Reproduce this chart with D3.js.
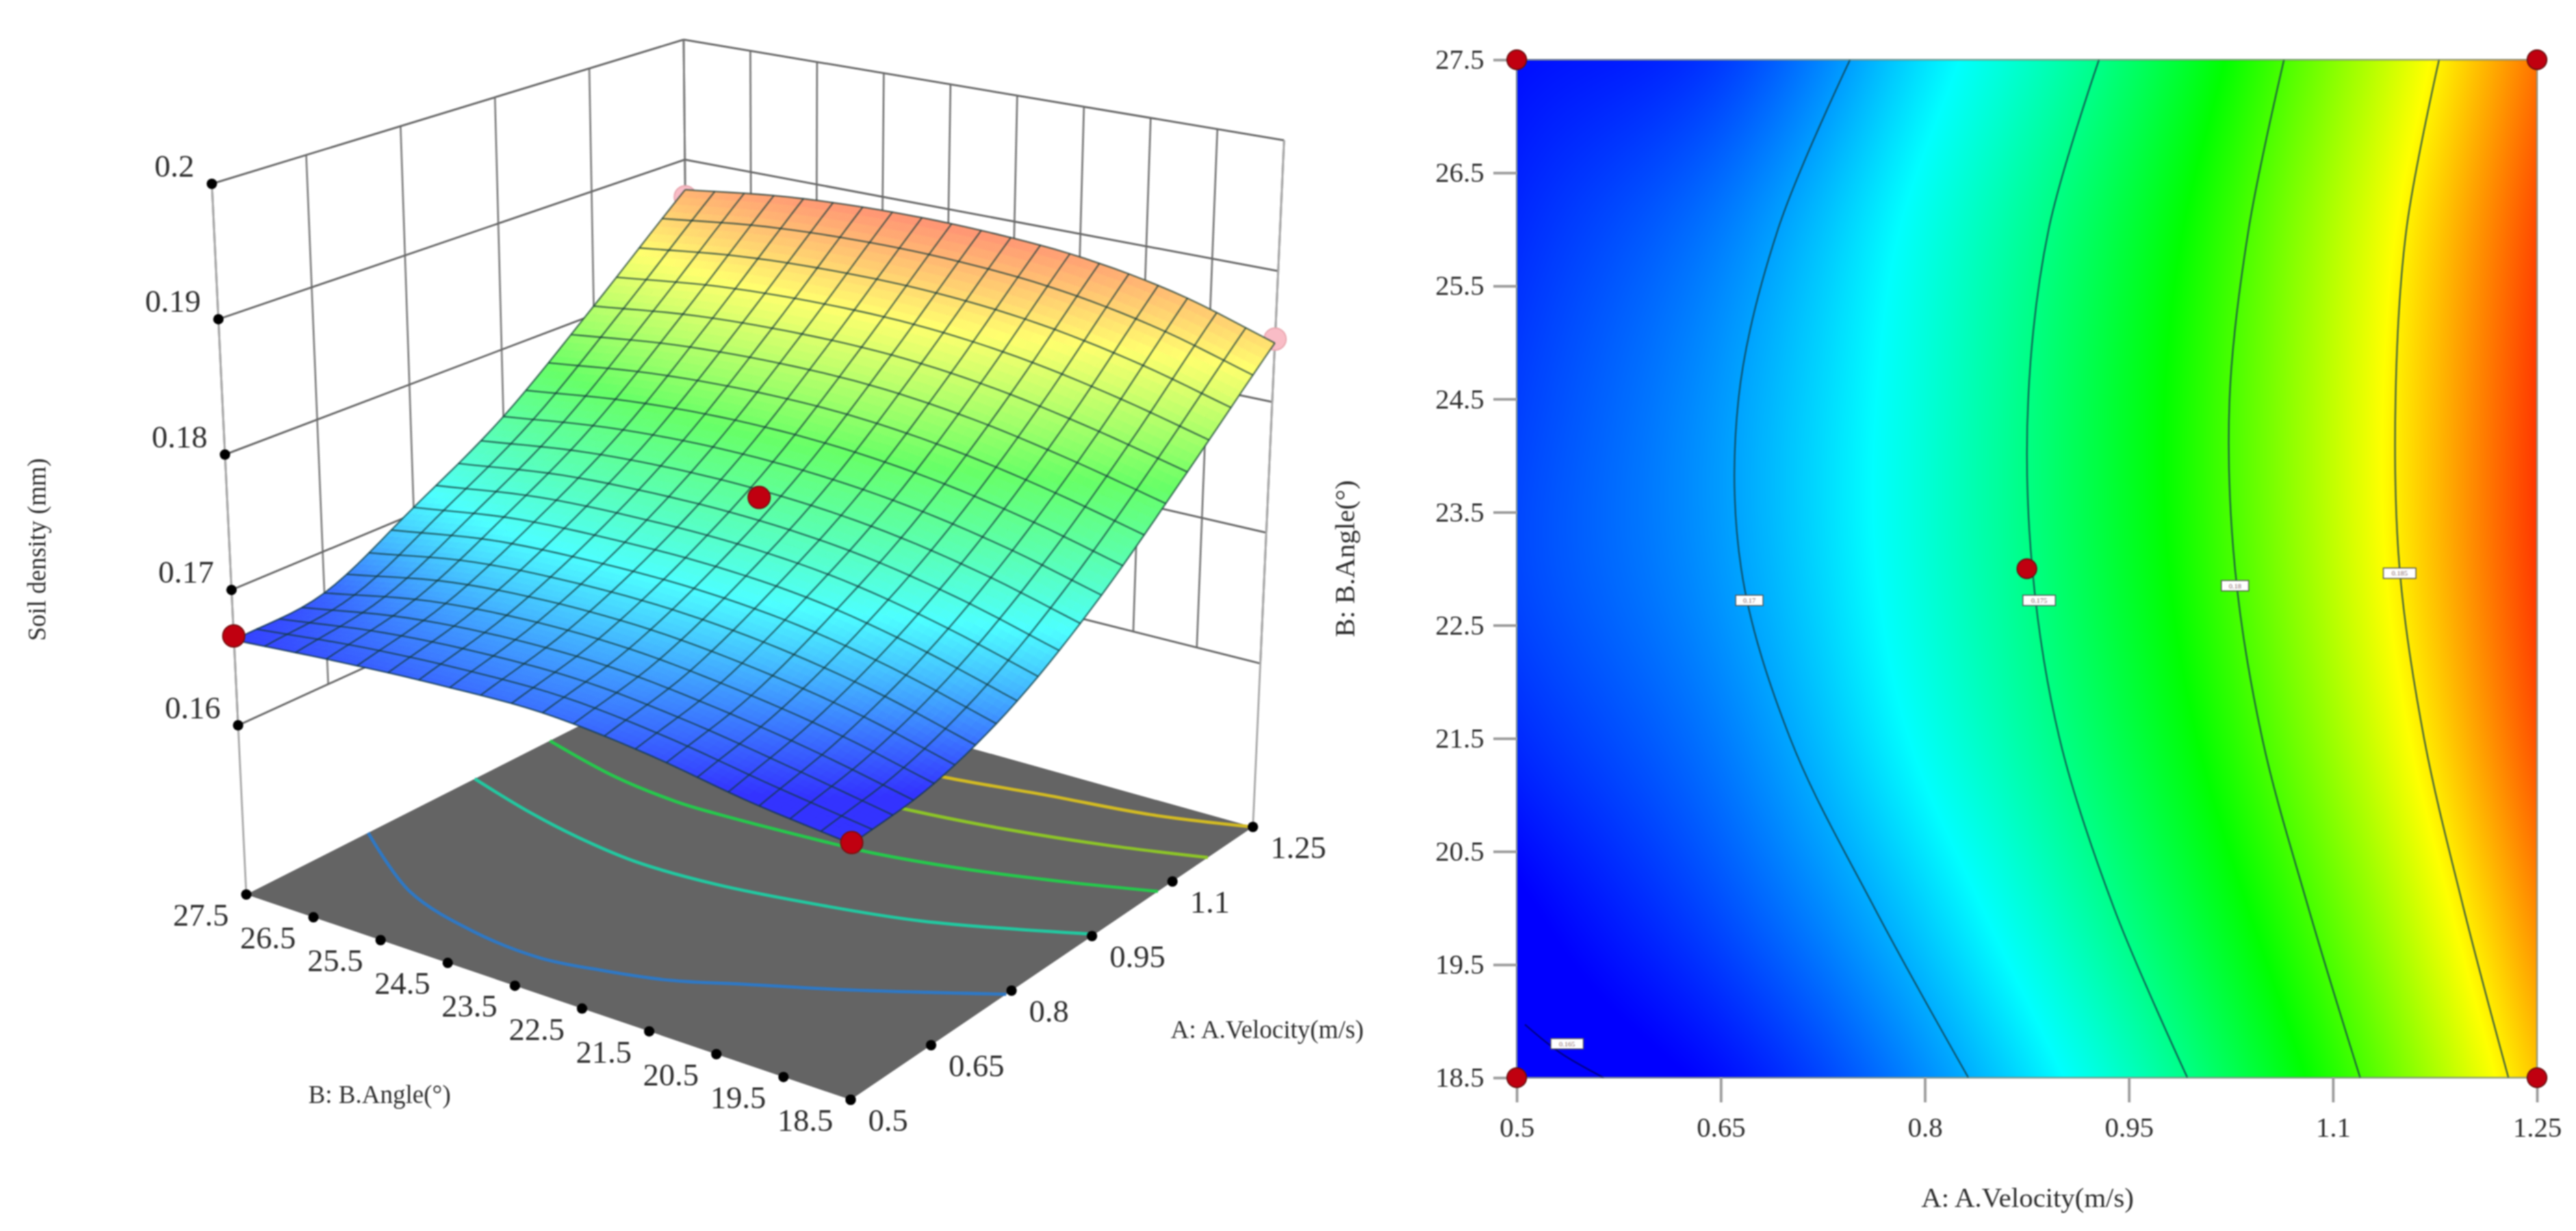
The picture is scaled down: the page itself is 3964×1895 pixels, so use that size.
<!DOCTYPE html>
<html>
<head>
<meta charset="utf-8">
<style>
  html, body { margin: 0; background: #fff; }
  svg, canvas { position: absolute; filter: blur(1.2px); }
  svg { left: 0; top: 0; }
  text { font-family: "Liberation Serif", serif; fill: #2e2e2e; }
</style>
<script src="https://cdn.jsdelivr.net/npm/d3@7"></script>
</head>
<body>
<script>
// tick values
const aTicks = [0.5, 0.65, 0.8, 0.95, 1.1, 1.25];
const bTicks = [18.5, 19.5, 20.5, 21.5, 22.5, 23.5, 24.5, 25.5, 26.5, 27.5];
const zTicks = [0.16, 0.17, 0.18, 0.19, 0.2];

// soil density, one row per B value, one column per A tick
const bRows = [18.5, 20, 21.5, 23, 24.5, 26, 27.5];
const mapTable = [
  [0.1650, 0.1663, 0.1694, 0.1737, 0.1792, 0.1860],
  [0.1658, 0.1679, 0.1711, 0.1754, 0.1808, 0.1875],
  [0.1670, 0.1690, 0.1725, 0.1767, 0.1822, 0.1888],
  [0.1677, 0.1697, 0.1731, 0.1774, 0.1830, 0.1894],
  [0.1675, 0.1697, 0.1731, 0.1775, 0.1831, 0.1894],
  [0.1670, 0.1690, 0.1727, 0.1770, 0.1827, 0.1890],
  [0.1663, 0.1674, 0.1715, 0.1758, 0.1816, 0.1880]
];
// same grid, heights (it sits a little lower than the map)
const surfaceTable = [
  [0.1650, 0.1658, 0.1682, 0.1724, 0.1781, 0.1845],
  [0.1658, 0.1674, 0.1701, 0.1742, 0.1798, 0.1868],
  [0.1670, 0.1685, 0.1715, 0.1755, 0.1812, 0.1882],
  [0.1677, 0.1692, 0.1721, 0.1762, 0.1820, 0.1888],
  [0.1675, 0.1692, 0.1721, 0.1763, 0.1821, 0.1889],
  [0.1670, 0.1685, 0.1717, 0.1758, 0.1817, 0.1885],
  [0.1663, 0.1669, 0.1705, 0.1747, 0.1807, 0.1875]
];

// contour lines of the flat map: A position at each of the bRows
const contour170 = [0.832, 0.763, 0.701, 0.665, 0.663, 0.692, 0.745];
const contour175 = [0.993, 0.939, 0.899, 0.879, 0.876, 0.891, 0.928];
const contour180 = [1.120, 1.082, 1.048, 1.028, 1.024, 1.038, 1.064];
const contour185 = [1.229, 1.196, 1.167, 1.149, 1.146, 1.154, 1.178];
const contourLowA = [0.506, 0.532, 0.564];
const contourLowB = [18.97, 18.72, 18.5];

// contour lines on the floor of the 3D box
const floorBlueA = [0.706, 0.615, 0.578, 0.570, 0.587, 0.610, 0.651, 0.698, 0.790];
const floorBlueB = [27.5, 26.06, 24.78, 23.72, 22.88, 22.11, 21.28, 20.29, 18.5];
const floorTealA = [0.886, 0.852, 0.832, 0.820, 0.825, 0.848, 0.879, 0.955];
const floorTealB = [27.5, 26.33, 25.4, 24.44, 23.25, 21.87, 20.53, 18.5];
const floorGreenA = [1.013, 0.979, 0.966, 0.966, 0.975, 0.982, 1.005, 1.039, 1.073];
const floorGreenB = [27.5, 26.17, 25.1, 24.52, 22.99, 22.2, 20.96, 19.64, 18.5];
const floorLimeA = [1.12, 1.09, 1.08, 1.089, 1.107, 1.134, 1.166];
const floorLimeB = [27.5, 26, 24, 22.57, 21.2, 19.79, 18.5];
const floorYellowA = [1.19, 1.17, 1.16, 1.176, 1.198, 1.218, 1.25];
const floorYellowB = [27.5, 26, 24.5, 22.75, 21.34, 19.85, 18.5];

// contour labels on the flat map
const labelText = ["0.165", "0.17", "0.175", "0.18", "0.185"];
const labelA = [0.537, 0.671, 0.884, 1.028, 1.149];
const labelB = [18.8, 22.72, 22.72, 22.85, 22.96];

// design points
const pointA = [0.5, 0.5, 1.25, 1.25, 0.875];
const pointB = [27.5, 18.5, 18.5, 27.5, 23];
const pointZ = [0.1666, 0.1651, 0.1848, 0.1869, 0.1757];

const width = 3964, height = 1895;
const svg = d3.select("body").append("svg").attr("width", width).attr("height", height);

// colour ramp, same on both panels
const colorScale = d3.scaleLinear()
  .domain([0.166, 0.1722, 0.1784, 0.1846, 0.1908])
  .range(["#0000ff", "#00ffff", "#00ff00", "#ffff00", "#ff0000"])
  .clamp(true);
const paleScale = d3.scaleLinear().domain([0.166, 0.178, 0.19]).range([0.2, 0.4, 0.46]).clamp(true);
const surfaceColor = z => d3.interpolateRgb(colorScale(z), "#fff")(paleScale(z));

// catmull-rom through the table so the surface stays smooth between read values
function sample(arr, t) {
  const n = arr.length - 1;
  const i = Math.min(Math.max(Math.floor(t), 0), n - 1);
  const f = t - i;
  const p1 = arr[i], p2 = arr[i + 1];
  const p0 = i > 0 ? arr[i - 1] : 2 * p1 - p2;
  const p3 = i + 2 <= n ? arr[i + 2] : 2 * p2 - p1;
  return 0.5 * (2 * p1 + (p2 - p0) * f + (2 * p0 - 5 * p1 + 4 * p2 - p3) * f * f + (3 * p1 - p0 - 3 * p2 + p3) * f * f * f);
}
const colIndex = d3.scaleLinear().domain([0.5, 1.25]).range([0, aTicks.length - 1]);
const rowIndex = d3.scaleLinear().domain([18.5, 27.5]).range([0, bRows.length - 1]);
function field(table, a, b) {
  const c = colIndex(a);
  return sample(table.map(row => sample(row, c)), rowIndex(b));
}

const contoursFlat = [contour170, contour175, contour180, contour185];
const contoursFloor = [
  { a: floorBlueA, b: floorBlueB, color: "#2f78c4" },
  { a: floorTealA, b: floorTealB, color: "#22c8a0" },
  { a: floorGreenA, b: floorGreenB, color: "#26c84c" },
  { a: floorLimeA, b: floorLimeB, color: "#8cc428" },
  { a: floorYellowA, b: floorYellowB, color: "#d2ba22" }
];

drawSurfacePanel();
drawMapPanel();

// ---------- left panel, box drawn by blending its eight corners ----------
function drawSurfacePanel() {
  const uScale = d3.scaleLinear().domain([0.5, 1.25]).range([0, 1]);
  const vScale = d3.scaleLinear().domain([18.5, 27.5]).range([0, 1]);
  const wScale = d3.scaleLinear().domain([0.1475, 0.2]).range([0, 1]);

  // pixel corners of the box: floor, then top
  const floorL = [379, 1377], floorF = [1309, 1693], floorR = [1928, 1273], floorB = [1062, 1031];
  const topL = [326, 283], topF = [1314, 512], topR = [1976, 216], topB = [1052, 61];
  const mix2 = (p, q, t) => [p[0] + (q[0] - p[0]) * t, p[1] + (q[1] - p[1]) * t];
  function project(a, b, z) {
    const u = uScale(a), v = vScale(b), w = wScale(z);
    const bottom = mix2(mix2(floorF, floorR, u), mix2(floorL, floorB, u), v);
    const up = mix2(mix2(topF, topR, u), mix2(topL, topB, u), v);
    return mix2(bottom, up, w);
  }
  const floorZ = wScale.domain()[0];
  const line = d3.line();
  const g = svg.append("g");

  // walls
  const wallLines = [];
  aTicks.forEach(a => wallLines.push({ p: [project(a, 27.5, 0.16), project(a, 27.5, 0.2)], s: "#858585" }));
  bTicks.forEach(b => wallLines.push({ p: [project(1.25, b, 0.16), project(1.25, b, 0.2)], s: "#7d7d7d" }));
  zTicks.forEach(z => {
    wallLines.push({ p: [project(0.5, 27.5, z), project(1.25, 27.5, z)], s: "#686868" });
    wallLines.push({ p: [project(1.25, 27.5, z), project(1.25, 18.5, z)], s: "#686868" });
  });
  wallLines.push({ p: [project(0.5, 27.5, floorZ), project(0.5, 27.5, 0.2)], s: "#a8a8a8" });
  wallLines.push({ p: [project(1.25, 18.5, floorZ), project(1.25, 18.5, 0.2)], s: "#a8a8a8" });
  g.selectAll(".wall").data(wallLines).join("path").attr("class", "wall")
    .attr("d", d => line(d.p)).attr("fill", "none").attr("stroke", d => d.s).attr("stroke-width", 3);

  // floor
  g.append("path")
    .attr("d", line([project(0.5, 27.5, floorZ), project(0.5, 18.5, floorZ), project(1.25, 18.5, floorZ), project(1.25, 27.5, floorZ)]) + "Z")
    .attr("fill", "#646464");

  const smooth = d3.line().curve(d3.curveCatmullRom);
  g.selectAll(".floorContour").data(contoursFloor).join("path").attr("class", "floorContour")
    .attr("d", d => smooth(d.a.map((a, i) => project(a, d.b[i], floorZ))))
    .attr("fill", "none").attr("stroke", d => d.color).attr("stroke-width", 5);

  // the two back points sit behind the surface edge
  const points = pointA.map((a, i) => ({ a, b: pointB[i], z: pointZ[i] }));
  g.selectAll(".backPoint").data(points.filter(d => d.a === 1.25)).join("circle").attr("class", "backPoint")
    .attr("cx", d => project(d.a, d.b, d.z)[0]).attr("cy", d => project(d.a, d.b, d.z)[1])
    .attr("r", 17).attr("fill", "#f9bcc6").attr("stroke", "#e8a8b0").attr("stroke-width", 2);

  // surface, small patches for the colour and a coarser mesh on top
  const height3d = (a, b) => field(surfaceTable, a, b);
  const fine = 80, meshCells = 20;
  const aAt = d3.scaleLinear().domain([0, 1]).range([0.5, 1.25]);
  const bAt = d3.scaleLinear().domain([0, 1]).range([18.5, 27.5]);
  const patches = [];
  for (let i = 0; i < fine; i++) {
    for (let j = 0; j < fine; j++) {
      const a0 = aAt(i / fine), a1 = aAt((i + 1) / fine), b0 = bAt(j / fine), b1 = bAt((j + 1) / fine);
      patches.push({
        corners: [project(a0, b0, height3d(a0, b0)), project(a1, b0, height3d(a1, b0)), project(a1, b1, height3d(a1, b1)), project(a0, b1, height3d(a0, b1))],
        color: surfaceColor(field(mapTable, (a0 + a1) / 2, (b0 + b1) / 2))
      });
    }
  }
  g.selectAll(".patch").data(patches).join("path").attr("class", "patch")
    .attr("d", d => line(d.corners) + "Z")
    .attr("fill", d => d.color).attr("stroke", d => d.color).attr("stroke-width", 1);

  const meshLines = [];
  d3.range(meshCells + 1).forEach(i => {
    const t = i / meshCells;
    meshLines.push(d3.range(41).map(k => { const a = aAt(t), b = bAt(k / 40); return project(a, b, height3d(a, b)); }));
    meshLines.push(d3.range(41).map(k => { const a = aAt(k / 40), b = bAt(t); return project(a, b, height3d(a, b)); }));
  });
  g.selectAll(".mesh").data(meshLines).join("path").attr("class", "mesh")
    .attr("d", line).attr("fill", "none").attr("stroke", "#12383a").attr("stroke-opacity", 0.66).attr("stroke-width", 2.6);

  // red points in front of the surface
  g.selectAll(".point").data(points.filter(d => d.a !== 1.25)).join("circle").attr("class", "point")
    .attr("cx", d => project(d.a, d.b, d.z)[0]).attr("cy", d => project(d.a, d.b, d.z)[1])
    .attr("r", 17).attr("fill", "#c00010").attr("stroke", "#7a1010").attr("stroke-width", 2);

  // tick dots and labels
  const tickGroups = [
    { vals: zTicks, pos: d => project(0.5, 27.5, d), dx: -27, dy: -11, anchor: "end", fmt: d => String(d) },
    { vals: bTicks, pos: d => project(0.5, d, floorZ), dx: -27, dy: 48, anchor: "end", fmt: d3.format(".1f") },
    { vals: aTicks, pos: d => project(d, 18.5, floorZ), dx: 27, dy: 48, anchor: "start", fmt: d => String(d) }
  ];
  tickGroups.forEach(t => {
    g.selectAll(null).data(t.vals).join("circle")
      .attr("cx", d => t.pos(d)[0]).attr("cy", d => t.pos(d)[1]).attr("r", 8).attr("fill", "#000");
    g.selectAll(null).data(t.vals).join("text")
      .attr("x", d => t.pos(d)[0] + t.dx).attr("y", d => t.pos(d)[1] + t.dy)
      .attr("text-anchor", t.anchor).attr("font-size", 49).text(t.fmt);
  });

  g.append("text").attr("transform", "translate(70,846) rotate(-90)").attr("text-anchor", "middle")
    .attr("font-size", 39).text("Soil density (mm)");
  g.append("text").attr("x", 584).attr("y", 1698).attr("text-anchor", "middle")
    .attr("font-size", 39).text("B: B.Angle(°)");
  g.append("text").attr("x", 1950).attr("y", 1598).attr("text-anchor", "middle")
    .attr("font-size", 39).text("A: A.Velocity(m/s)");
}

// ---------- right panel, flat contour map ----------
function drawMapPanel() {
  const left = 2334, right = 3904, top = 92, bottom = 1659;
  const x = d3.scaleLinear().domain([0.5, 1.25]).range([left, right]);
  const y = d3.scaleLinear().domain([18.5, 27.5]).range([bottom, top]);

  const w = right - left, h = bottom - top;
  const canvas = d3.select("body").insert("canvas", "svg")
    .attr("width", w).attr("height", h)
    .style("left", left + "px").style("top", top + "px").node();
  const ctx = canvas.getContext("2d");
  const img = ctx.createImageData(w, h);
  const lutSize = 2048;
  const lut = d3.range(lutSize).map(i => d3.rgb(colorScale(0.16 + 0.032 * i / (lutSize - 1))));
  for (let j = 0; j < h; j++) {
    const rt = rowIndex(y.invert(top + j + 0.5));
    const cols = aTicks.map((_, c) => sample(mapTable.map(rw => rw[c]), rt));
    for (let i = 0; i < w; i++) {
      const a = x.invert(left + i + 0.5);
      const z = sample(cols, colIndex(a));
      const c = lut[Math.max(0, Math.min(lutSize - 1, Math.round((z - 0.16) / 0.032 * (lutSize - 1))))];
      const k = 4 * (j * w + i);
      img.data[k] = c.r; img.data[k + 1] = c.g; img.data[k + 2] = c.b; img.data[k + 3] = 255;
    }
  }
  ctx.putImageData(img, 0, 0);

  const g = svg.append("g");

  const smooth = d3.line().x(d => x(d[0])).y(d => y(d[1])).curve(d3.curveCatmullRom);
  g.selectAll(".contour").data(contoursFlat).join("path").attr("class", "contour")
    .attr("d", d => smooth(d.map((a, i) => [a, bRows[i]])))
    .attr("fill", "none").attr("stroke", "#12404a").attr("stroke-opacity", 0.8).attr("stroke-width", 2.5);
  g.append("path").attr("d", smooth(contourLowA.map((a, i) => [a, contourLowB[i]])))
    .attr("fill", "none").attr("stroke", "#000050").attr("stroke-opacity", 0.7).attr("stroke-width", 2.5);

  g.append("rect").attr("x", left).attr("y", top).attr("width", w).attr("height", h)
    .attr("fill", "none").attr("stroke", "#6f7f70").attr("stroke-opacity", 0.75).attr("stroke-width", 2.5);

  const xAxis = d3.axisBottom(x).tickValues(aTicks).tickFormat(d => String(d)).tickSize(38).tickPadding(22);
  const yAxis = d3.axisLeft(y).tickValues(bTicks).tickFormat(d3.format(".1f")).tickSize(36).tickPadding(14);
  [
    g.append("g").attr("transform", `translate(0,${bottom})`).call(xAxis),
    g.append("g").attr("transform", `translate(${left},0)`).call(yAxis)
  ].forEach(ax => {
    ax.select(".domain").remove();
    ax.selectAll(".tick line").attr("stroke", "#9a9a9a").attr("stroke-width", 4);
    ax.selectAll(".tick text").attr("font-size", 43).attr("font-family", "Liberation Serif").attr("fill", "#2e2e2e");
  });

  // contour labels
  const labels = g.selectAll(".clabel").data(labelText).join("g").attr("class", "clabel")
    .attr("transform", (d, i) => `translate(${x(labelA[i])},${y(labelB[i])})`);
  labels.append("rect").attr("x", d => d.length > 4 ? -25 : -21).attr("y", -8)
    .attr("width", d => d.length > 4 ? 50 : 42).attr("height", 16)
    .attr("fill", "#fff").attr("stroke", "#555").attr("stroke-width", 1.5);
  labels.append("text").attr("text-anchor", "middle").attr("y", 4).attr("font-size", 11)
    .style("fill", "#8a6a6a").text(d => d);

  g.selectAll(".point").data(pointA).join("circle").attr("class", "point")
    .attr("cx", d => x(d)).attr("cy", (d, i) => y(pointB[i]))
    .attr("r", 15).attr("fill", "#c00010").attr("stroke", "#6a1010").attr("stroke-width", 2);

  g.append("text").attr("x", 3120).attr("y", 1858).attr("text-anchor", "middle")
    .attr("font-size", 43).text("A: A.Velocity(m/s)");
  g.append("text").attr("transform", "translate(2084,860) rotate(-90)").attr("text-anchor", "middle")
    .attr("font-size", 43).text("B: B.Angle(°)");
}
</script>
</body>
</html>
